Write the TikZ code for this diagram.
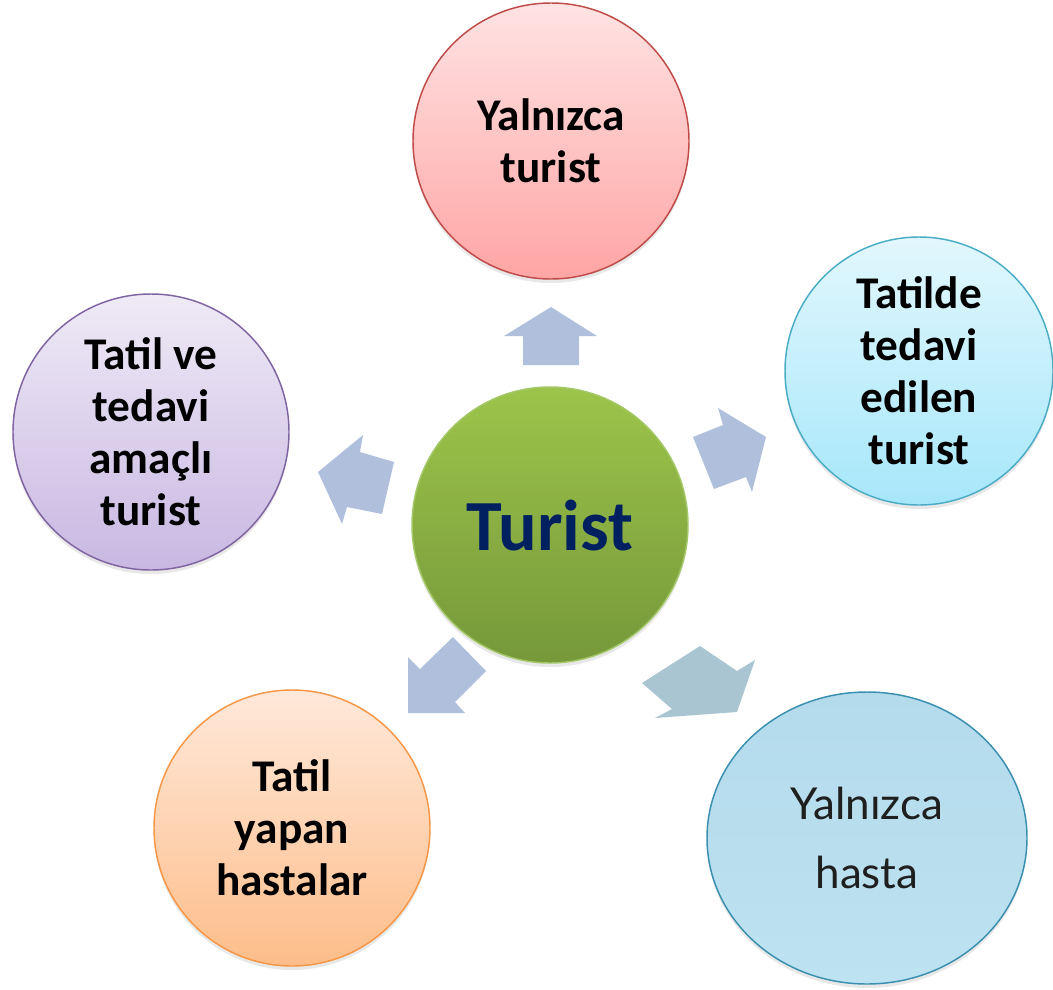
\documentclass[tikz,border=0pt]{standalone}
\usepackage{fontspec}
\setmainfont{Carlito}
\newfontfamily\hastafont{Lato}
\usetikzlibrary{shapes.geometric,shadows}

\definecolor{arrowblue}{HTML}{B0C0DC}
\definecolor{arrowgrey}{HTML}{AAC5D2}
\definecolor{turistblue}{HTML}{002060}
\definecolor{greentop}{HTML}{9DC44A}
\definecolor{greenbot}{HTML}{76983A}
\definecolor{greenline}{HTML}{A4C868}
\definecolor{pinktop}{HTML}{FFE3E3}
\definecolor{pinkbot}{HTML}{FFA5A5}
\definecolor{pinkline}{HTML}{BE4B48}
\definecolor{cyantop}{HTML}{E2F7FD}
\definecolor{cyanbot}{HTML}{A6E7FA}
\definecolor{cyanline}{HTML}{4BACC6}
\definecolor{lilactop}{HTML}{EFEAF6}
\definecolor{lilacbot}{HTML}{C8B8E2}
\definecolor{lilacline}{HTML}{8064A2}
\definecolor{peachtop}{HTML}{FFE9DA}
\definecolor{peachbot}{HTML}{FDBD8A}
\definecolor{peachline}{HTML}{F79646}
\definecolor{skytop}{HTML}{B4DBEC}
\definecolor{skybot}{HTML}{BDE2F1}
\definecolor{skyline}{HTML}{3A8FAE}

\tikzset{
  bubble/.style={circle, draw, line width=1.1pt, minimum size=207pt, inner sep=0pt,
    align=center, font=\fontsize{34}{39}\selectfont\bfseries,
    drop shadow={opacity=0.18, shadow xshift=0pt, shadow yshift=-3pt}},
  blockarrow/.style={fill=arrowblue, draw=none}
}

\begin{document}
\begin{tikzpicture}[x=0.75pt, y=-0.75pt]

  \useasboundingbox (0,0) rectangle (1053,989);

  % Center and outer circles
  \node[bubble, draw=greenline, top color=greentop, bottom color=greenbot,
        text=turistblue, font=\fontsize{54}{60}\selectfont\bfseries] (turist) at (550,525) {Turist};
  \node[bubble, draw=pinkline, top color=pinktop, bottom color=pinkbot] (yturist) at (551,141) {Yalnızca\\turist};
  \node[bubble, draw=cyanline, top color=cyantop, bottom color=cyanbot, minimum size=201pt] (tatilde) at (919,371) {Tatilde\\tedavi\\edilen\\turist};
  \node[bubble, draw=lilacline, top color=lilactop, bottom color=lilacbot] (tatilve) at (151,432) {Tatil ve\\tedavi\\amaçlı\\turist};
  \node[bubble, draw=peachline, top color=peachtop, bottom color=peachbot] (tatilyapan) at (292,828) {Tatil\\yapan\\hastalar};
  \node[bubble, ellipse, draw=skyline, top color=skytop, bottom color=skybot,
        minimum width=240pt, minimum height=219pt, font=\fontsize{33}{52}\selectfont\hastafont, text=black!88] (yhasta) at (867,838) {Yalnızca\\hasta};

  % Up arrow
  \coordinate (U0) at (551,307);
  \coordinate (U1) at (597,336);
  \coordinate (U2) at (579,336);
  \coordinate (U3) at (579,365);
  \coordinate (U4) at (523,365);
  \coordinate (U5) at (523,336);
  \coordinate (U6) at (504,336);
  \draw[blockarrow] (U0) -- (U1) -- (U2) -- (U3) -- (U4) -- (U5) -- (U6) -- cycle;

  % Right arrow
  \coordinate (R0) at (766,437);
  \coordinate (R1) at (752,492);
  \coordinate (R2) at (746,477);
  \coordinate (R3) at (714,489);
  \coordinate (R4) at (693,437);
  \coordinate (R5) at (723,425);
  \coordinate (R6) at (718,408);
  \draw[blockarrow] (R0) -- (R1) -- (R2) -- (R3) -- (R4) -- (R5) -- (R6) -- cycle;

  % Left arrow
  \coordinate (L0) at (318,472);
  \coordinate (L1) at (363,435);
  \coordinate (L2) at (360,452);
  \coordinate (L3) at (394,462);
  \coordinate (L4) at (382,514);
  \coordinate (L5) at (347,507);
  \coordinate (L6) at (342,524);
  \draw[blockarrow] (L0) -- (L1) -- (L2) -- (L3) -- (L4) -- (L5) -- (L6) -- cycle;

  % Lower left arrow
  \coordinate (D0) at (408,713);
  \coordinate (D1) at (408,657);
  \coordinate (D2) at (420,669);
  \coordinate (D3) at (453,637);
  \coordinate (D4) at (486,671);
  \coordinate (D5) at (455,702);
  \coordinate (D6) at (465,713);
  \draw[blockarrow] (D0) -- (D1) -- (D2) -- (D3) -- (D4) -- (D5) -- (D6) -- cycle;

  % Lower right arrow (greyer one)
  \coordinate (E0) at (737,712);
  \coordinate (E1) at (655,718);
  \coordinate (E2) at (672,709);
  \coordinate (E3) at (642,683);
  \coordinate (E4) at (700,646);
  \coordinate (E5) at (737,671);
  \coordinate (E6) at (755,660);
  \draw[blockarrow, fill=arrowgrey] (E0) -- (E1) -- (E2) -- (E3) -- (E4) -- (E5) -- (E6) -- cycle;

\end{tikzpicture}
\end{document}
